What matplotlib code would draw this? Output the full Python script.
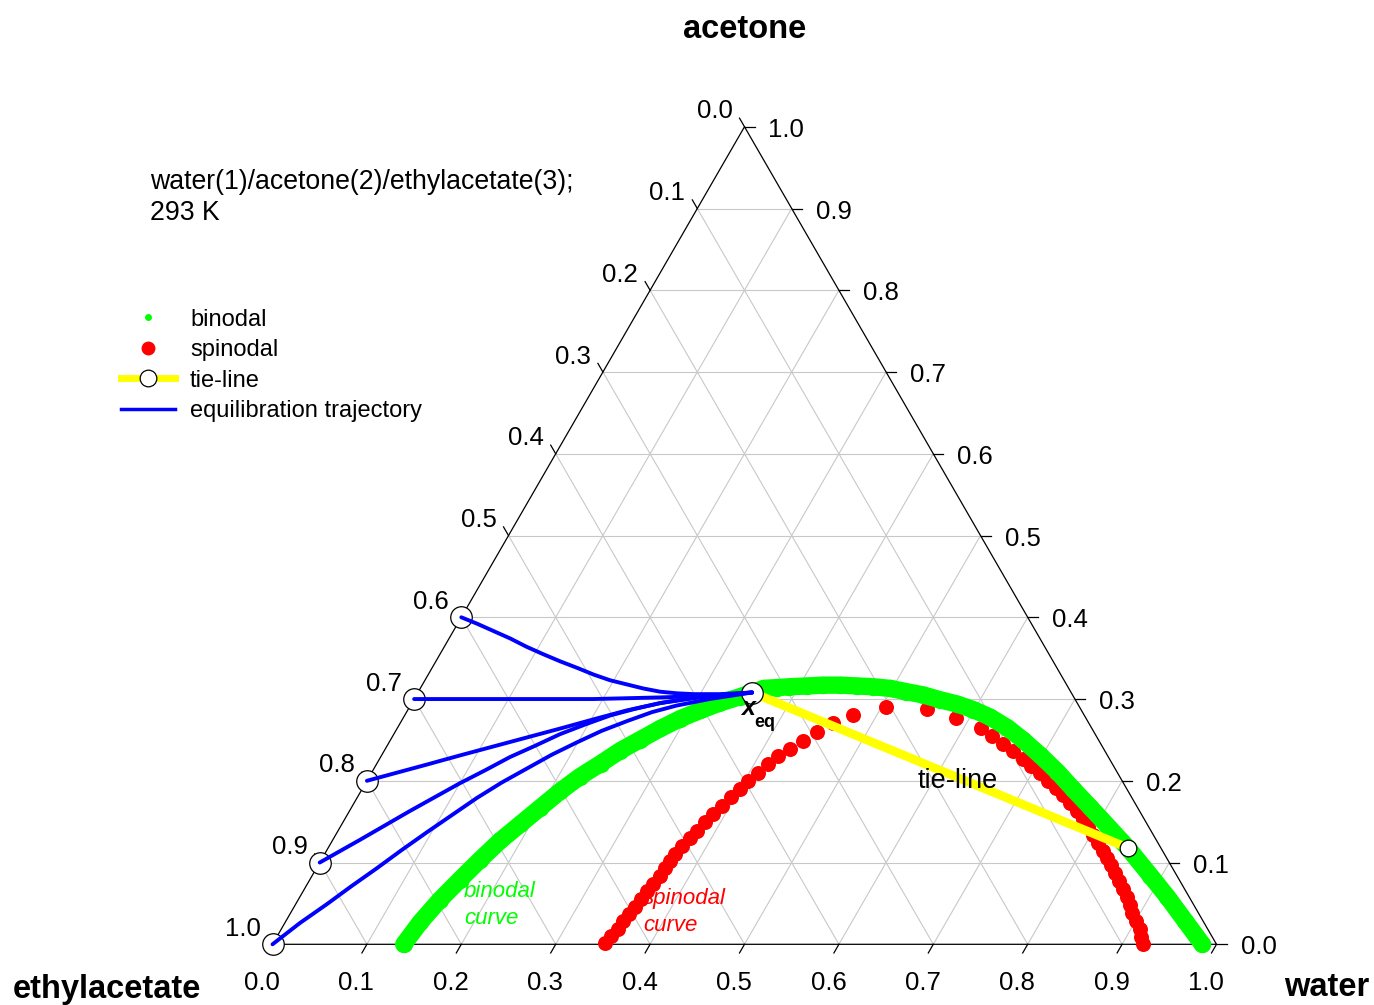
import numpy as np
import matplotlib
matplotlib.use("Agg")
import matplotlib.pyplot as plt
from matplotlib.lines import Line2D

plt.rcParams['font.family'] = ['Liberation Sans', 'DejaVu Sans']

# ---------------- data (mole fractions: water = x1, acetone = x2, ethylacetate = 1 - x1 - x2)
binodal_water = [0.139, 0.143, 0.150, 0.159, 0.168, 0.178, 0.189, 0.200, 0.211, 0.223,
                 0.237, 0.250, 0.264, 0.279, 0.294, 0.310, 0.326, 0.344, 0.354, 0.364,
                 0.377, 0.390, 0.408, 0.425, 0.443, 0.461, 0.479, 0.498, 0.517, 0.537,
                 0.558, 0.578, 0.599, 0.621, 0.646, 0.670, 0.698, 0.726, 0.753, 0.782,
                 0.812, 0.847, 0.888, 0.919, 0.952, 0.985]
binodal_acetone = [0.000, 0.027, 0.054, 0.079, 0.103, 0.127, 0.147, 0.167, 0.187, 0.205,
                   0.221, 0.237, 0.250, 0.264, 0.276, 0.286, 0.295, 0.303, 0.308, 0.313,
                   0.314, 0.315, 0.316, 0.317, 0.317, 0.316, 0.315, 0.313, 0.309, 0.305,
                   0.299, 0.294, 0.287, 0.278, 0.265, 0.250, 0.231, 0.211, 0.190, 0.168,
                   0.145, 0.118, 0.084, 0.058, 0.029, 0.000]

spinodal_water = [0.352, 0.354, 0.356, 0.357, 0.359, 0.361, 0.363, 0.364, 0.366, 0.368, 0.369, 0.370,
                  0.371, 0.374, 0.377, 0.380, 0.384, 0.387, 0.392, 0.396, 0.400, 0.404, 0.410,
                  0.415, 0.421, 0.429, 0.437, 0.447, 0.458, 0.475, 0.505, 0.549, 0.586,
                  0.618, 0.635, 0.651, 0.666, 0.681, 0.694, 0.709, 0.722, 0.734, 0.746,
                  0.758, 0.771, 0.782, 0.792, 0.802, 0.812, 0.823, 0.831, 0.840, 0.849,
                  0.858, 0.867, 0.876, 0.884, 0.892, 0.900, 0.909, 0.916, 0.922]
spinodal_acetone = [0.001, 0.010, 0.019, 0.028, 0.037, 0.046, 0.055, 0.065, 0.074, 0.084, 0.093, 0.102,
                    0.111, 0.120, 0.130, 0.139, 0.149, 0.159, 0.169, 0.180, 0.190, 0.200, 0.209,
                    0.220, 0.230, 0.239, 0.249, 0.260, 0.271, 0.280, 0.290, 0.288, 0.277,
                    0.264, 0.255, 0.245, 0.237, 0.227, 0.218, 0.209, 0.200, 0.191, 0.183,
                    0.173, 0.163, 0.153, 0.144, 0.134, 0.124, 0.114, 0.106, 0.097, 0.087,
                    0.078, 0.068, 0.058, 0.048, 0.038, 0.029, 0.019, 0.009, 0.000]

tieline_water = [0.354, 0.847]
tieline_acetone = [0.308, 0.118]

xeq_water = 0.354
xeq_acetone = 0.308

traj1_water = [0.000, 0.021, 0.043, 0.065, 0.087, 0.109, 0.132, 0.154, 0.175, 0.196,
               0.216, 0.236, 0.256, 0.275, 0.293, 0.321, 0.354]
traj1_acetone = [0.400, 0.392, 0.383, 0.374, 0.364, 0.355, 0.346, 0.338, 0.330, 0.323,
                 0.318, 0.313, 0.309, 0.307, 0.306, 0.306, 0.308]
traj2_water = [0.000, 0.084, 0.190, 0.260, 0.311, 0.354]
traj2_acetone = [0.300, 0.300, 0.300, 0.302, 0.304, 0.308]
traj3_water = [0.000, 0.027, 0.054, 0.083, 0.113, 0.143, 0.173, 0.202, 0.232, 0.263,
               0.295, 0.322, 0.354]
traj3_acetone = [0.200, 0.210, 0.220, 0.231, 0.242, 0.253, 0.264, 0.275, 0.286, 0.295,
                 0.302, 0.305, 0.308]
traj4_water = [0.000, 0.029, 0.046, 0.064, 0.082, 0.100, 0.119, 0.137, 0.157, 0.176,
               0.197, 0.218, 0.240, 0.263, 0.302, 0.354]
traj4_acetone = [0.100, 0.128, 0.145, 0.163, 0.180, 0.197, 0.213, 0.229, 0.243, 0.257,
                 0.269, 0.280, 0.288, 0.295, 0.302, 0.308]
traj5_water = [0.000, 0.016, 0.033, 0.048, 0.064, 0.079, 0.095, 0.111, 0.127, 0.144,
               0.162, 0.180, 0.199, 0.218, 0.239, 0.260, 0.282, 0.313, 0.354]
traj5_acetone = [0.000, 0.026, 0.049, 0.071, 0.093, 0.115, 0.137, 0.158, 0.179, 0.198,
                 0.215, 0.232, 0.247, 0.261, 0.273, 0.284, 0.292, 0.300, 0.308]

tick_values = [0.0, 0.1, 0.2, 0.3, 0.4, 0.5, 0.6, 0.7, 0.8, 0.9, 1.0]
tick_labels = ['0.0', '0.1', '0.2', '0.3', '0.4', '0.5', '0.6', '0.7', '0.8', '0.9', '1.0']

# ---------------- helpers
SQ = np.sqrt(3) / 2


def tern(w, a):
    w = np.asarray(w, float)
    a = np.asarray(a, float)
    return w + 0.5 * a, SQ * a


W, H = 1374, 1005
fig = plt.figure(figsize=(W / 100, H / 100), dpi=100)
ax = fig.add_axes([0, 0, 1, 1])
PX = 1 / 944.0
ax.set_xlim(-272.5 * PX, (W - 272.5) * PX)
ax.set_ylim(-(H - 944.3) * PX, 944.3 * PX)
ax.axis('off')


def F(px, py):
    return px / W, 1 - py / H


GRID = '#c8c8c8'
FS_TICK = 18.5
FS_LEG = 17

# grid
for v in tick_values[1:-1]:
    x, y = tern([0, 1 - v], [v, v])
    ax.plot(x, y, color=GRID, lw=0.8, zorder=1)
    x, y = tern([v, v], [0, 1 - v])
    ax.plot(x, y, color=GRID, lw=0.8, zorder=1)
    x, y = tern([0, 1 - v], [1 - v, 0])
    ax.plot(x, y, color=GRID, lw=0.8, zorder=1)

# triangle
x, y = tern([0, 1, 0, 0], [0, 0, 1, 0])
ax.plot(x, y, color='black', lw=0.9, zorder=2, solid_joinstyle='miter')

# ticks and tick labels
TL = 10 * PX
for v, lab in zip(tick_values, tick_labels):
    # right axis: acetone
    X, Y = tern(1 - v, v)
    ax.plot([X, X + TL], [Y, Y], color='black', lw=0.9, zorder=2)
    ax.text(X + 24 * PX, Y - 3 * PX, lab, ha='left', va='center', fontsize=FS_TICK)
    # left axis: ethylacetate
    X, Y = tern(0, 1 - v)
    ax.plot([X, X - 0.5 * TL], [Y, Y + SQ * TL], color='black', lw=0.9, zorder=2)
    ax.text(X - 30 * PX, Y + 15.5 * PX, lab, ha='center', va='center', fontsize=FS_TICK)
    # bottom axis: water
    X, Y = tern(v, 0)
    ax.plot([X, X - 0.5 * TL], [Y, Y - SQ * TL], color='black', lw=0.9, zorder=2)
    ax.text(X - 10.5 * PX, Y - 39 * PX, lab, ha='center', va='center', fontsize=FS_TICK)

# spinodal
x, y = tern(spinodal_water, spinodal_acetone)
ax.plot(x, y, ls='none', marker='o', ms=10.8, mfc='#ff0000', mec='none', zorder=3)

# binodal
x, y = tern(binodal_water, binodal_acetone)
ax.plot(x, y, color='#00ff00', lw=12.5, solid_capstyle='round', solid_joinstyle='round',
        marker='o', ms=12.5, mfc='#00ff00', mec='none', zorder=4)

# tie-line
x, y = tern(tieline_water, tieline_acetone)
ax.plot(x, y, color='#ffff00', lw=6.3, marker='o', ms=12, mfc='white', mec='black',
        mew=0.9, zorder=5)

# trajectories
trajs = [(traj1_water, traj1_acetone), (traj2_water, traj2_acetone),
         (traj3_water, traj3_acetone), (traj4_water, traj4_acetone),
         (traj5_water, traj5_acetone)]
starts_w = [t[0][0] for t in trajs] + [xeq_water]
starts_a = [t[1][0] for t in trajs] + [xeq_acetone]
x, y = tern(starts_w, starts_a)
ax.plot(x, y, ls='none', marker='o', ms=15.5, mfc='white', mec='black', mew=0.9, zorder=6)
for tw, ta in trajs:
    x, y = tern(tw, ta)
    ax.plot(x, y, color='#0000ff', lw=2.8, zorder=7, solid_capstyle='round',
            solid_joinstyle='round')

# legend
handles = [
    Line2D([], [], ls='none', marker='o', ms=5, mfc='#00ff00', mec='none'),
    Line2D([], [], ls='none', marker='o', ms=10, mfc='#ff0000', mec='none'),
    Line2D([], [], color='#ffff00', lw=5, marker='o', ms=12, mfc='white', mec='black', mew=0.9),
    Line2D([], [], color='#0000ff', lw=2.5),
]
labels = ['binodal', 'spinodal', 'tie-line', 'equilibration trajectory']
ax.legend(handles, labels, loc='upper left', bbox_to_anchor=F(121, 308.5),
          bbox_transform=fig.transFigure, frameon=False, fontsize=FS_LEG,
          handlelength=2.3, handletextpad=0.62, labelspacing=0.36,
          borderpad=0, borderaxespad=0, numpoints=1)

# texts
fig.text(*F(150, 169), 'water(1)/acetone(2)/ethylacetate(3);\n293 K', ha='left', va='top',
         fontsize=19.2, linespacing=1.25)
fig.text(*F(745, 29), 'acetone', ha='center', va='center', fontsize=23.5, fontweight='bold')
fig.text(*F(107, 989), 'ethylacetate', ha='center', va='center', fontsize=23.5, fontweight='bold')
fig.text(*F(1327, 987), 'water', ha='center', va='center', fontsize=23.5, fontweight='bold')

fig.text(*F(741, 715), 'x', ha='left', va='baseline', fontsize=18, fontweight='bold',
         fontstyle='italic')
fig.text(*F(754, 726.7), 'eq', ha='left', va='baseline', fontsize=13, fontweight='bold')
fig.text(*F(918, 788), 'tie-line', ha='left', va='baseline', fontsize=19.5)
fig.text(*F(464, 881), 'binodal\ncurve', ha='left', va='top', fontsize=16,
         fontstyle='italic', color='#00ff00', linespacing=1.38)
fig.text(*F(643, 888), 'spinodal\ncurve', ha='left', va='top', fontsize=16,
         fontstyle='italic', color='#ff0000', linespacing=1.38)

fig.savefig('out.png', dpi=100)
